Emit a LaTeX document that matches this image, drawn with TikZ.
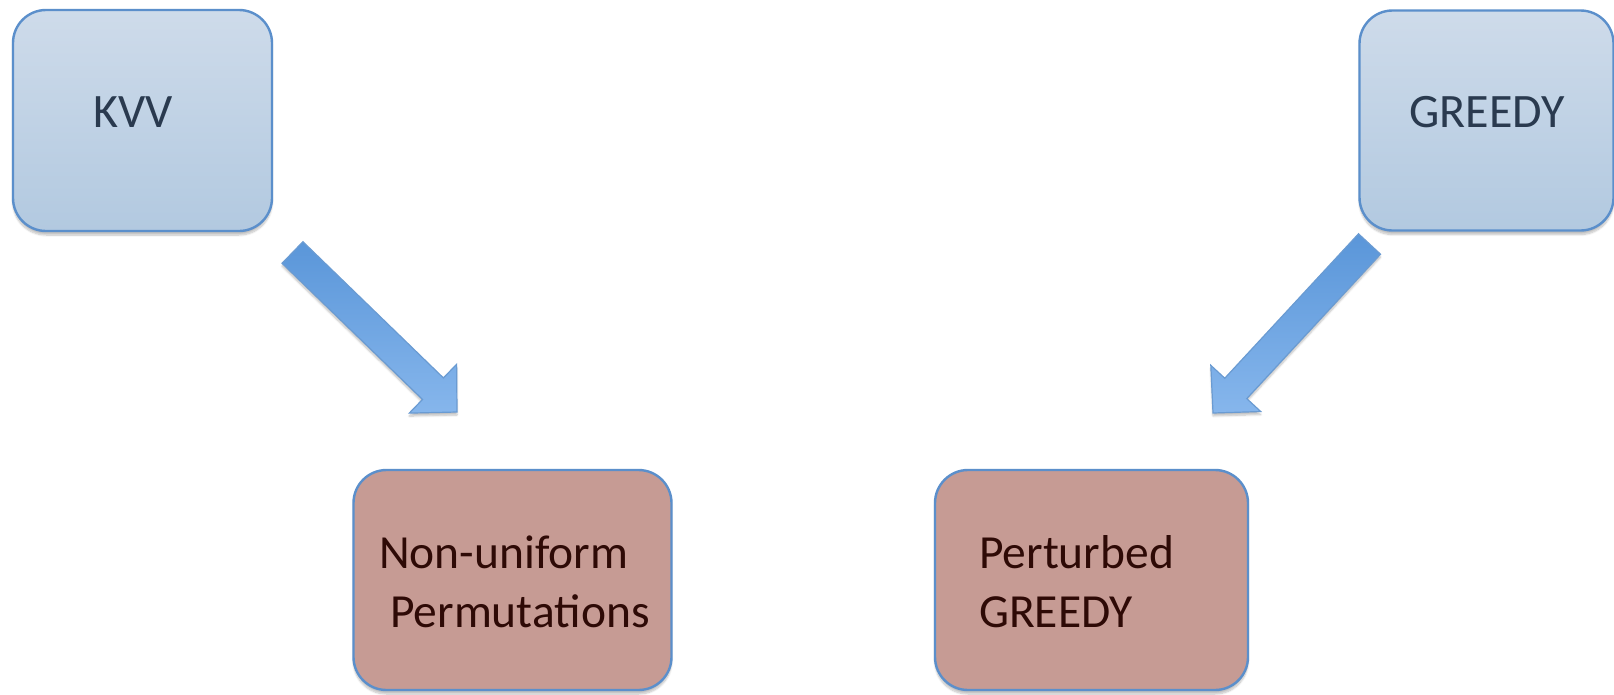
\documentclass[tikz,border=0pt]{standalone}
\usepackage{fontspec}
\setmainfont{Carlito}
\usetikzlibrary{calc,shadows.blur}

\definecolor{bluetop}{HTML}{CEDBEA}
\definecolor{bluebot}{HTML}{B2C9E0}
\definecolor{boxline}{HTML}{5B8FCB}
\definecolor{rosefill}{HTML}{C69B94}
\definecolor{topink}{HTML}{2A3A4F}
\definecolor{roseink}{HTML}{2E0A06}
\definecolor{arrowdark}{HTML}{5A96D9}
\definecolor{arrowlight}{HTML}{86B6EC}
\definecolor{arrowline}{HTML}{6A9BD2}

\tikzset{
  softshadow/.style={blur shadow={shadow xshift=0pt, shadow yshift=-4pt,
      shadow blur steps=8, shadow opacity=25}},
  algobox/.style={draw=boxline, line width=2.4pt, rounded corners=33pt,
      top color=bluetop, bottom color=bluebot, softshadow},
  resultbox/.style={draw=boxline, line width=2.4pt, rounded corners=33pt,
      fill=rosefill, softshadow},
  algotext/.style={font=\fontsize{48}{58}\selectfont, text=topink, inner sep=0pt, anchor=base},
  resulttext/.style={font=\fontsize{47.5}{57}\selectfont, text=roseink, inner sep=0pt, anchor=base west},
  blockarrow/.style={draw=arrowline, line width=1.2pt, line join=miter,
      top color=arrowdark, bottom color=arrowlight,
      blur shadow={shadow xshift=0pt, shadow yshift=-3pt, shadow blur steps=6, shadow opacity=25}},
}

% block arrow from #1 to #2: shaft half width 15, head half width 34, head length 33.5
\newcommand{\fatarrow}[3]{%
  \coordinate (#3b) at ($(#2)!33.5pt!(#1)$);
  \path[blockarrow]
    ($(#1)!15pt!90:(#2)$) -- ($(#3b)!15pt!90:(#2)$) -- ($(#3b)!34pt!90:(#2)$)
    -- (#2) -- ($(#3b)!34pt!-90:(#2)$) -- ($(#3b)!15pt!-90:(#2)$)
    -- ($(#1)!15pt!-90:(#2)$) -- cycle;
}

\begin{document}
\begin{tikzpicture}[x=1pt,y=1pt]
\useasboundingbox (0,0) rectangle (1614,-694);

% source algorithms
\node[algobox, minimum width=259pt, minimum height=221pt] (kvv) at (142.5,-120.5) {};
\node[algotext] (kvvlabel) at (133,-127) {KVV};
\node[algobox, minimum width=254pt, minimum height=220pt] (greedy) at (1486.5,-120.5) {};
\node[algotext] (greedylabel) at (1487,-127) {GREEDY};

% derived variants
\node[resultbox, minimum width=318pt, minimum height=220pt] (nonuni) at (512.5,-580) {};
\node[resulttext] (nonuniA) at (379,-568) {Non-uniform};
\node[resulttext] (nonuniB) at (390,-627) {Permutations};
\node[resultbox, minimum width=313pt, minimum height=220pt] (pert) at (1091.5,-580) {};
\node[resulttext] (pertA) at (979,-568) {Perturbed};
\node[resulttext] (pertB) at (979,-627) {GREEDY};

% arrows
\coordinate (la) at (292.5,-252.5);
\coordinate (lb) at (457,-412);
\coordinate (ra) at (1369.5,-244);
\coordinate (rb) at (1213,-413);
\fatarrow{la}{lb}{lh}
\fatarrow{ra}{rb}{rh}
\end{tikzpicture}
\end{document}
